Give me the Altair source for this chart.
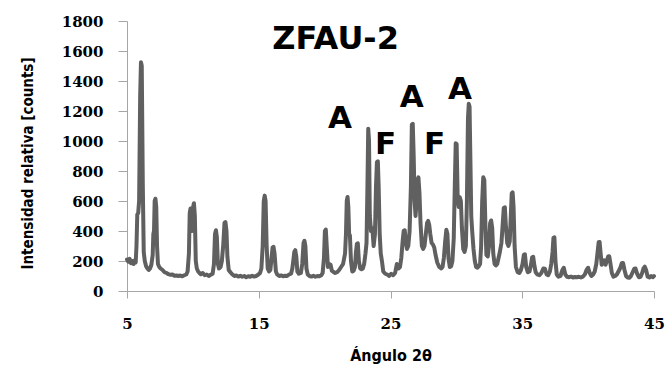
import altair as alt
import pandas as pd

# X-ray diffraction pattern of sample ZFAU-2 (2θ in degrees, intensity in counts)
two_theta = [
    5.0, 5.1, 5.2, 5.3, 5.4, 5.5, 5.6, 5.66, 5.72, 5.78, 5.85, 5.92, 6.0, 6.06, 6.12, 6.2, 6.27,
    6.35, 6.45, 6.55, 6.65, 6.75, 6.85, 6.95, 7.0, 7.05, 7.1, 7.16, 7.22, 7.28, 7.35, 7.45, 7.55,
    7.7, 7.85, 8.0, 8.15, 8.3, 8.45, 8.6, 8.75, 8.9, 9.05, 9.2, 9.35, 9.5, 9.6, 9.7, 9.76, 9.82,
    9.88, 9.95, 10.02, 10.08, 10.15, 10.22, 10.3, 10.4, 10.5, 10.6, 10.75, 10.9, 11.05, 11.2,
    11.35, 11.5, 11.6, 11.68, 11.75, 11.82, 11.9, 11.98, 12.1, 12.2, 12.3, 12.4, 12.47, 12.55,
    12.62, 12.72, 12.85, 13.0, 13.15, 13.3, 13.45, 13.6, 13.75, 13.9, 14.05, 14.2, 14.35, 14.5,
    14.65, 14.8, 14.95, 15.1, 15.2, 15.3, 15.38, 15.45, 15.52, 15.6, 15.68, 15.78, 15.88, 15.95,
    16.05, 16.12, 16.2, 16.3, 16.4, 16.55, 16.7, 16.85, 17.0, 17.15, 17.3, 17.45, 17.55, 17.62,
    17.7, 17.77, 17.85, 17.93, 18.05, 18.2, 18.3, 18.4, 18.47, 18.54, 18.62, 18.72, 18.85, 19.0,
    19.15, 19.3, 19.45, 19.6, 19.75, 19.85, 19.95, 20.02, 20.09, 20.16, 20.25, 20.35, 20.45,
    20.55, 20.65, 20.8, 20.95, 21.1, 21.25, 21.4, 21.55, 21.62, 21.68, 21.74, 21.8, 21.86, 21.92,
    22.0, 22.1, 22.2, 22.3, 22.38, 22.45, 22.52, 22.6, 22.7, 22.8, 22.9, 23.0, 23.1, 23.18,
    23.25, 23.31, 23.37, 23.43, 23.52, 23.62, 23.72, 23.82, 23.9, 23.97, 24.04, 24.1, 24.18,
    24.26, 24.35, 24.45, 24.6, 24.75, 24.9, 25.05, 25.2, 25.35, 25.48, 25.6, 25.72, 25.82, 25.92,
    26.0, 26.08, 26.15, 26.25, 26.35, 26.45, 26.55, 26.62, 26.69, 26.76, 26.83, 26.9, 26.98,
    27.05, 27.12, 27.2, 27.28, 27.38, 27.48, 27.58, 27.68, 27.78, 27.86, 27.94, 28.02, 28.12,
    28.22, 28.32, 28.42, 28.55, 28.7, 28.85, 28.95, 29.05, 29.15, 29.24, 29.32, 29.4, 29.5, 29.6,
    29.7, 29.8, 29.88, 29.95, 30.02, 30.1, 30.18, 30.26, 30.34, 30.42, 30.52, 30.62, 30.72, 30.8,
    30.88, 30.94, 31.0, 31.06, 31.13, 31.2, 31.3, 31.4, 31.5, 31.6, 31.7, 31.8, 31.88, 31.96,
    32.04, 32.12, 32.2, 32.28, 32.38, 32.48, 32.56, 32.64, 32.72, 32.8, 32.9, 33.0, 33.1, 33.2,
    33.3, 33.42, 33.52, 33.6, 33.68, 33.76, 33.86, 33.95, 34.05, 34.13, 34.2, 34.27, 34.34,
    34.42, 34.52, 34.65, 34.78, 34.9, 35.02, 35.12, 35.2, 35.3, 35.42, 35.55, 35.65, 35.75,
    35.83, 35.92, 36.02, 36.15, 36.3, 36.45, 36.6, 36.72, 36.85, 36.97, 37.1, 37.2, 37.3, 37.37,
    37.44, 37.52, 37.62, 37.75, 37.9, 38.05, 38.15, 38.27, 38.4, 38.55, 38.7, 38.85, 39.0, 39.15,
    39.3, 39.45, 39.6, 39.75, 39.88, 40.0, 40.12, 40.25, 40.38, 40.5, 40.62, 40.72, 40.8, 40.87,
    40.95, 41.03, 41.12, 41.22, 41.32, 41.42, 41.52, 41.6, 41.7, 41.8, 41.92, 42.05, 42.18, 42.3,
    42.42, 42.55, 42.65, 42.76, 42.88, 43.0, 43.12, 43.25, 43.38, 43.5, 43.6, 43.72, 43.85,
    43.98, 44.1, 44.2, 44.3, 44.4, 44.52, 44.65, 44.78, 44.9, 45.0,
]

counts = [
    210, 195, 215, 185, 200, 180, 205, 190, 300, 510, 520, 600, 1300, 1525, 1500, 700, 260,
    200, 165, 150, 140, 150, 175, 240, 380, 400, 600, 615, 560, 300, 180, 160, 150,
    140, 125, 120, 112, 108, 110, 102, 104, 100, 103, 98, 105, 110, 130, 250, 520, 550,
    480, 400, 560, 585, 500, 200, 150, 130, 120, 112, 120, 105, 110, 100,
    108, 115, 180, 380, 405, 360, 180, 150, 160, 200, 300, 455, 460, 400,
    230, 140, 125, 110, 100, 104, 96, 102, 95, 100, 92, 98, 95, 102,
    96, 100, 108, 120, 150, 300, 600, 636, 600, 300, 150, 130, 140, 200,
    290, 295, 250, 130, 110, 100, 104, 98, 102, 100, 110, 115, 150, 200,
    262, 272, 230, 130, 115, 120, 180, 320, 335, 300, 150, 110, 100, 96,
    102, 95, 100, 98, 105, 120, 220, 400, 410, 300, 160, 180, 175,
    135, 128, 120, 125, 140, 160, 180, 250, 380, 600, 627, 560, 380, 370,
    200, 130, 135, 160, 260, 315, 318, 200, 150, 145, 150, 180, 250, 320,
    700, 1082, 1000, 500, 400, 420, 300, 380, 700, 860, 865, 700, 380,
    250, 200, 130, 115, 110, 100, 115, 105, 120, 180, 150, 160, 220, 330,
    400, 405, 330, 280, 300, 400, 700, 1110, 1115, 900, 600, 500, 600,
    740, 758, 650, 450, 300, 280, 300, 380, 455, 467, 440, 380, 320,
    310, 290, 240, 190, 160, 150, 160, 220, 330, 408, 380, 220, 160, 165,
    200, 350, 700, 985, 980, 620, 560, 625, 600, 420, 280, 260, 300, 600,
    1150, 1248, 1230, 900, 500, 400, 280, 200, 160, 155, 165, 180, 300, 600,
    758, 740, 450, 240, 230, 300, 450, 470, 420, 250, 180, 170, 180, 220,
    260, 320, 450, 555, 558, 430, 320, 300, 330, 500, 650, 658, 560,
    300, 160, 125, 120, 140, 180, 240, 245, 160, 125, 130, 170, 225,
    228, 170, 125, 110, 105, 120, 150, 148, 110, 105, 130, 180, 260, 355,
    358, 200, 110, 95, 100, 140, 155, 110, 95, 92, 96, 90, 94, 92,
    95, 90, 96, 110, 140, 155, 120, 100, 110, 130, 180, 260, 325, 327,
    250, 175, 190, 205, 175, 200, 230, 232, 180, 120, 95, 100, 110, 130,
    150, 185, 187, 140, 100, 90, 88, 100, 125, 148, 150, 115, 92,
    95, 120, 150, 162, 140, 95, 90, 100, 92, 100,
]

# Phase labels (A / F) and the sample name, placed in data coordinates
label_text = ["A", "F", "A", "F", "A"]
label_theta = [21.17, 24.63, 26.62, 28.35, 30.28]
label_counts = [1145, 975, 1288, 971, 1338]

title_text = ["ZFAU-2"]
title_theta = [20.83]
title_counts = [1681]

x_ticks = [5, 15, 25, 35, 45]
y_ticks = [0, 200, 400, 600, 800, 1000, 1200, 1400, 1600, 1800]

pattern = pd.DataFrame({"theta": two_theta, "counts": counts})
labels = pd.DataFrame({"text": label_text, "theta": label_theta, "counts": label_counts})
sample = pd.DataFrame({"text": title_text, "theta": title_theta, "counts": title_counts})

x_scale = alt.Scale(domain=[5, 45], nice=False, zero=False)
y_scale = alt.Scale(domain=[0, 1800], nice=False)

axis_common = dict(
    grid=False,
    domainColor="#a6a6a6",
    tickColor="#a6a6a6",
    labelFont="DejaVu Serif",
    labelFontWeight="bold",
    labelFontSize=15,
    labelColor="#000000",
    labelOverlap=False,
    labelFlush=False,
    labelBound=False,
    format="d",
    titleFont="DejaVu Sans Condensed",
    titleFontWeight="bold",
    titleColor="#000000",
)

x_axis = alt.Axis(
    values=x_ticks,
    tickSize=7,
    labelPadding=18,
    title="Ángulo 2θ",
    titleFontSize=16,
    titleY=64,
    titleBaseline="middle",
    **axis_common,
)
y_axis = alt.Axis(
    values=y_ticks,
    tickCount=10,
    tickSize=9,
    labelPadding=15,
    title="Intensidad relativa [counts]",
    titleFontSize=15,
    titleAngle=270,
    titleX=-100,
    titleY=142,
    titleAlign="center",
    titleBaseline="middle",
    **axis_common,
)

# Every layer carries the same axis definition, so the merged axes agree
x_enc = alt.X("theta:Q", scale=x_scale, axis=x_axis)
y_enc = alt.Y("counts:Q", scale=y_scale, axis=y_axis)

line = alt.Chart(pattern).mark_line(
    color="#606060", strokeWidth=4, strokeJoin="round", strokeCap="round"
).encode(x=x_enc, y=y_enc)

phase_marks = alt.Chart(labels).mark_text(
    font="DejaVu Sans", fontWeight="bold", fontSize=31, color="#000000",
    align="center", baseline="middle",
).encode(x=x_enc, y=y_enc, text="text:N")

sample_name = alt.Chart(sample).mark_text(
    font="DejaVu Sans", fontWeight="bold", fontSize=32, color="#000000",
    align="center", baseline="middle",
).encode(x=x_enc, y=y_enc, text="text:N")

chart = (
    alt.layer(line, phase_marks, sample_name)
    .properties(
        width=527,
        height=270,
        autosize=alt.AutoSizeParams(type="none"),
        padding={"left": 127, "top": 21, "right": 14, "bottom": 81},
        background="#ffffff",
    )
    .configure_view(stroke=None)
)

chart.save("out.html", embed_options={"renderer": "svg", "actions": False})
